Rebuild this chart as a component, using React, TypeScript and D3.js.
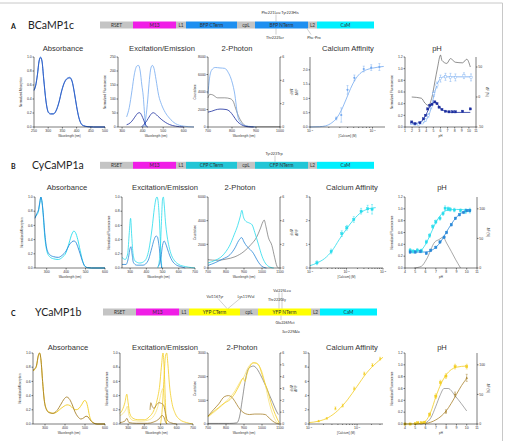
import React from 'react';
import * as d3 from 'd3';

type Pt = number[];

const SANS = '"Liberation Sans", Arial, sans-serif';
const GILL = 'Lato, "Open Sans", sans-serif';

// ---------------- construct ----------------
const segNames = ['RSET', 'M13', 'L1', 'CTerm', 'cpL', 'NTerm', 'L2', 'CaM'];
const segLengths = [33, 43, 10, 51, 18, 53, 9, 57];
const rowNames = ['BCaMP1c', 'CyCaMP1a', 'YCaMP1b'];
const rowLetters = ['A', 'B', 'C'];
const fpNames = ['BFP', 'CFP', 'YFP'];
const panelTitles = ['Absorbance', 'Excitation/Emission', '2-Photon', 'Calcium Affinity', 'pH'];

// ---------------- Row A data ----------------
const absA1: Pt[] = [[250,0.53],[256,0.6],[262,0.75],[268,0.95],[273,1.0],[278,0.95],[284,0.7],[292,0.38],[300,0.22],[308,0.19],[318,0.19],[328,0.24],[338,0.36],[348,0.53],[358,0.65],[368,0.7],[376,0.71],[384,0.66],[392,0.5],[400,0.3],[408,0.14],[416,0.05],[425,0.02],[440,0.005],[460,0],[500,0]];
const absA2: Pt[] = [[250,0.52],[256,0.59],[262,0.74],[268,0.94],[273,0.99],[278,0.94],[284,0.69],[292,0.37],[300,0.21],[308,0.185],[318,0.185],[328,0.23],[338,0.35],[348,0.52],[358,0.64],[368,0.69],[376,0.7],[384,0.65],[392,0.49],[400,0.29],[408,0.13],[416,0.045],[425,0.015],[440,0.004],[460,0],[500,0]];
const exA1: Pt[] = [[322,36],[335,70],[348,130],[360,190],[372,218],[380,220],[388,200],[396,150],[403,110],[408,60],[413,15],[417,0]];
const emA1: Pt[] = [[405,0],[415,30],[425,100],[433,170],[440,210],[447,220],[455,210],[465,170],[478,113],[492,80],[510,52],[530,32],[560,12],[600,3],[650,0]];
const exA2: Pt[] = [[322,8],[340,15],[355,28],[368,42],[378,50],[386,51],[395,42],[405,25],[413,10],[420,2],[425,0]];
const emA2: Pt[] = [[395,0],[405,8],[420,22],[435,40],[445,49],[452,51],[462,47],[475,38],[490,28],[510,17],[530,9],[560,3],[600,0]];
const tpA1: Pt[] = [[700,3800],[706,5500],[715,6500],[730,6800],[750,6750],[770,6700],[785,6200],[795,5600],[810,4000],[826,1000],[840,400],[855,150],[880,50],[900,0]];
const tpA2: Pt[] = [[700,1700],[715,1800],[730,1950],[750,2050],[775,2000],[792,1750],[805,1300],[820,700],[840,250],[855,80],[870,20],[890,0]];
const tpAdf: Pt[] = [[700,2.5],[708,2.8],[720,2.75],[740,2.5],[770,2.5],[792,2.43],[805,2.2],[815,1.6],[830,0.8],[845,0.3],[860,0.08],[880,0.02],[1000,0.02]];
const caAfit: Pt[] = [[-7,0],[-6.85,0.01],[-6.75,0.04],[-6.65,0.15],[-6.57,0.32],[-6.5,0.58],[-6.42,0.98],[-6.35,1.35],[-6.28,1.65],[-6.2,1.87],[-6.1,2.0],[-6.0,2.06],[-5.9,2.1],[-5.82,2.12]];
const caApts: Pt[] = [[-6.58,0.3,0.05],[-6.5,0.42,0.25],[-6.4,1.3,0.15],[-6.29,1.72,0.1],[-6.14,2.03,0.1],[-6.02,2.08,0.1],[-5.89,2.1,0.12]];
const phAlight: Pt[] = [[1.9,0.06,0.01],[2.4,0.05,0.01],[2.9,0.05,0.01],[3.4,0.07,0.01],[3.9,0.12,0.02],[4.3,0.2,0.03],[4.7,0.35,0.04],[5.05,0.57,0.05],[5.5,0.72,0.05],[6.0,0.83,0.06],[6.7,0.86,0.06],[7.4,0.85,0.07],[8.1,0.85,0.06],[9.3,0.88,0.05],[10.3,0.85,0.06]];
const phAlightFit: Pt[] = [[1.8,0.05],[3,0.05],[3.5,0.07],[4,0.12],[4.5,0.25],[5,0.5],[5.5,0.72],[6,0.83],[6.5,0.86],[8,0.86],[10.3,0.86]];
const phAdark: Pt[] = [[1.95,0.086],[2.4,0.057],[3.1,0.074],[3.6,0.14],[3.9,0.2],[4.2,0.31],[4.5,0.37],[4.8,0.39],[5.2,0.43],[5.5,0.4],[5.8,0.34],[6.2,0.3],[6.7,0.27],[7.2,0.26],[7.7,0.26],[8.1,0.26],[9.1,0.27],[10.2,0.31]];
const phAdarkFit: Pt[] = [[1.8,0.07],[2.5,0.06],[3,0.07],[3.5,0.12],[4,0.22],[4.5,0.35],[5,0.42],[5.3,0.43],[5.7,0.37],[6.2,0.3],[7,0.26],[8,0.25],[9,0.25],[10.2,0.25]];
const phAdf: Pt[] = [[1.95,0],[3.3,-2],[3.8,-10],[4.3,-14],[4.8,0],[5.2,25],[5.6,50],[6.0,70],[6.2,61],[6.9,56],[7.4,64],[8.1,58],[9.1,57],[9.7,63],[10.2,50]];

// ---------------- Row B data ----------------
const absB1: Pt[] = [[240,0.72],[250,0.75],[258,0.8],[265,0.92],[270,1.0],[275,0.95],[282,0.75],[290,0.45],[300,0.25],[315,0.16],[335,0.13],[360,0.12],[380,0.15],[400,0.22],[415,0.35],[430,0.48],[440,0.52],[448,0.5],[460,0.4],[472,0.25],[485,0.1],[495,0.03],[510,0.005],[530,0],[600,0]];
const absB2: Pt[] = [[240,0.7],[250,0.77],[258,0.82],[265,0.93],[270,1.0],[275,0.95],[282,0.78],[290,0.5],[300,0.28],[315,0.19],[335,0.16],[360,0.15],[380,0.18],[400,0.24],[415,0.32],[430,0.37],[440,0.38],[448,0.37],[460,0.3],[472,0.2],[485,0.09],[495,0.03],[510,0.005],[530,0],[600,0]];
const exB1: Pt[] = [[250,0.15],[270,0.12],[285,0.2],[295,0.5],[303,0.7],[310,0.45],[318,0.2],[330,0.1],[360,0.07],[390,0.1],[415,0.25],[435,0.55],[450,0.85],[460,0.98],[466,1.0],[472,0.95],[480,0.7],[487,0.35],[492,0.1],[496,0]];
const emB1: Pt[] = [[470,0],[480,0.1],[487,0.3],[494,0.7],[500,0.97],[505,1.0],[510,0.9],[518,0.65],[528,0.45],[540,0.3],[555,0.18],[575,0.1],[600,0.05],[640,0.02],[680,0.005],[700,0]];
const exB2: Pt[] = [[250,0.05],[275,0.05],[290,0.15],[300,0.28],[305,0.3],[312,0.2],[320,0.08],[340,0.04],[380,0.04],[410,0.1],[430,0.25],[448,0.4],[460,0.45],[468,0.44],[476,0.35],[484,0.2],[490,0.08],[495,0]];
const emB2: Pt[] = [[470,0.02],[480,0.05],[490,0.15],[500,0.32],[510,0.38],[518,0.35],[530,0.27],[545,0.17],[560,0.1],[580,0.05],[610,0.02],[640,0]];
const tpB1: Pt[] = [[700,420],[740,650],[770,900],[800,1400],[822,1950],[845,2800],[865,3600],[880,4400],[888,4880],[897,4300],[910,3950],[930,3800],[945,3650],[960,3000],[981,1950],[1000,1000],[1018,420],[1035,150],[1050,40],[1065,0]];
const tpB2: Pt[] = [[700,220],[740,450],[780,750],[822,1120],[850,1700],[870,2300],[887,2570],[900,2200],[917,1810],[935,1550],[952,1250],[970,750],[990,280],[1009,60],[1025,0]];
const tpBdf: Pt[] = [[700,0.7],[750,0.65],[800,0.75],[850,0.95],[900,1.4],[940,2.0],[970,2.6],[990,3.3],[1005,3.9],[1012,4.05],[1022,3.5],[1035,2.6],[1055,1.9],[1070,0.9],[1083,0.15],[1092,0]];
const caBfit: Pt[] = [[-7,0.1],[-6.9,0.15],[-6.8,0.22],[-6.6,0.4],[-6.4,0.72],[-6.2,1.2],[-6.0,1.65],[-5.8,2.05],[-5.6,2.35],[-5.4,2.5],[-5.2,2.55]];
const caBpts: Pt[] = [[-6.81,0.22,0.08],[-6.42,0.7,0.1],[-6.13,1.45,0.12],[-5.99,1.7,0.1],[-5.8,2.05,0.12],[-5.6,2.4,0.12],[-5.42,2.5,0.15],[-5.3,2.48,0.2]];
const phBcyan: Pt[] = [[4.5,0.3,0.03],[4.8,0.28,0.03],[5.2,0.3,0.03],[5.6,0.29,0.03],[6.07,0.44,0.03],[6.4,0.55,0.03],[6.7,0.7,0.03],[7.0,0.78,0.03],[7.4,0.84,0.03],[7.7,0.92,0.03],[7.9,1.01,0.04],[8.2,1.0,0.03],[8.4,0.99,0.03],[8.8,0.98,0.03],[9.4,0.97,0.03],[9.9,0.96,0.04],[10.3,0.97,0.04]];
const phBcyanFit: Pt[] = [[4.5,0.29],[5.5,0.3],[6,0.4],[6.5,0.58],[7,0.77],[7.5,0.9],[8,0.97],[9,0.99],[10.4,0.98]];
const phBblue: Pt[] = [[4.5,0.27,0.02],[5,0.27,0.02],[5.5,0.28,0.02],[6.07,0.25,0.02],[6.5,0.3,0.02],[7,0.35,0.02],[7.4,0.44,0.02],[7.8,0.52,0.02],[8.05,0.6,0.02],[8.5,0.73,0.02],[8.9,0.84,0.02],[9.3,0.9,0.02],[9.7,0.94,0.02],[10,0.97,0.02],[10.3,0.97,0.02]];
const phBblueFit: Pt[] = [[4.5,0.27],[6,0.27],[6.5,0.29],[7,0.35],[7.5,0.45],[8,0.6],[8.5,0.74],[9,0.86],[9.5,0.93],[10,0.96],[10.4,0.97]];
const phBdf: Pt[] = [[4.9,0],[5.6,3],[6.1,15],[6.9,44],[7.3,48],[7.7,52],[8.05,42],[8.5,28],[8.9,15],[9.4,0]];

// ---------------- Row C data ----------------
const absC1: Pt[] = [[240,0.75],[250,0.77],[258,0.82],[266,0.95],[273,1.0],[280,0.9],[288,0.6],[296,0.35],[306,0.22],[320,0.17],[340,0.15],[360,0.17],[380,0.22],[395,0.25],[410,0.27],[425,0.26],[440,0.22],[455,0.2],[470,0.22],[485,0.28],[497,0.33],[505,0.32],[513,0.25],[522,0.12],[532,0.04],[545,0.01],[560,0],[600,0]];
const absC2: Pt[] = [[240,0.76],[250,0.78],[258,0.83],[266,0.96],[273,1.0],[280,0.9],[288,0.6],[296,0.34],[306,0.21],[320,0.16],[340,0.15],[360,0.19],[380,0.28],[395,0.35],[408,0.38],[420,0.36],[435,0.28],[450,0.17],[465,0.1],[480,0.07],[495,0.09],[505,0.11],[515,0.1],[525,0.06],[540,0.02],[560,0],[600,0]];
const exC1: Pt[] = [[250,0.15],[265,0.2],[280,0.3],[292,0.42],[300,0.3],[310,0.15],[330,0.08],[360,0.06],[400,0.06],[430,0.1],[460,0.2],[480,0.35],[495,0.55],[505,0.8],[515,1.0],[522,0.8],[530,0.3],[535,0.05],[540,0]];
const emC1: Pt[] = [[500,0],[510,0.2],[520,0.6],[530,0.95],[538,1.0],[545,0.85],[555,0.55],[570,0.3],[590,0.15],[620,0.06],[660,0.02],[700,0]];
const exC3: Pt[] = [[250,0.12],[270,0.15],[285,0.2],[295,0.25],[305,0.12],[330,0.05],[380,0.04],[430,0.06],[460,0.12],[480,0.22],[495,0.35],[505,0.45],[515,0.5],[523,0.35],[532,0.08],[540,0]];
const emC2: Pt[] = [[435,0.2],[440,0.3],[448,0.25],[460,0.22],[475,0.27],[490,0.3],[505,0.29],[518,0.27],[528,0.18],[540,0.06],[560,0.02],[600,0]];
const exC2: Pt[] = [[250,0.02],[280,0.04],[292,0.08],[305,0.02],[350,0.01],[420,0.01],[460,0.03],[490,0.07],[510,0.12],[520,0.1],[530,0.03],[540,0]];
const tpC1: Pt[] = [[700,320],[730,520],[760,700],[790,880],[822,1030],[850,1300],[875,1650],[896,1940],[905,1800],[918,2150],[938,2500],[952,2580],[970,2560],[985,2440],[1000,2100],[1015,1750],[1030,1450],[1050,900],[1074,400],[1096,40]];
const tpC3: Pt[] = [[700,300],[750,600],[800,950],[850,1400],[880,1800],[900,2000],[920,2350],[940,2550],[960,2600],[980,2500],[1000,2200],[1020,1600],[1040,900],[1060,400],[1080,100],[1095,0]];
const tpC2: Pt[] = [[700,330],[730,600],[760,850],[790,1150],[813,1200],[830,1150],[850,950],[870,700],[890,520],[910,430],[930,400],[960,420],[990,420],[1018,400],[1040,250],[1060,120],[1080,30],[1095,0]];
const tpCdf: Pt[] = [[700,0.05],[760,0.05],[820,0.05],[860,0.1],[875,0.6],[890,2.0],[905,3.5],[925,4.7],[940,4.85],[952,4.9],[970,4.7],[990,4.2],[1018,3.3],[1040,2.5],[1060,1.8],[1080,1.1],[1091,0.8]];
const caCfit: Pt[] = [[-7,0.2],[-6.8,0.4],[-6.6,0.9],[-6.4,1.9],[-6.2,3.4],[-6.0,5.3],[-5.8,7.2],[-5.6,8.6],[-5.46,9.4]];
const caCpts: Pt[] = [[-6.8,0.4,0.1],[-6.63,0.8,0.1],[-6.45,2.2,0.2],[-6.3,2.6,0.2],[-6.06,5.0,0.2],[-5.85,7.1,0.2],[-5.68,8.3,0.2],[-5.52,9.2,0.2]];
const phCyel: Pt[] = [[4,0,0.01],[4.5,0,0.01],[5,0.005,0.01],[5.25,0.02,0.01],[5.6,0.02,0.01],[5.9,0.03,0.01],[6.4,0.16,0.03],[7.0,0.47,0.04],[7.45,0.7,0.04],[7.98,0.81,0.04],[8.87,0.97,0.04],[10.0,0.97,0.04]];
const phCyelFit: Pt[] = [[4,0],[5.5,0.01],[6,0.05],[6.5,0.2],[7,0.46],[7.5,0.68],[8,0.83],[8.5,0.92],[9,0.96],[10,0.98]];
const phCbrn: Pt[] = [[7.98,0.21,0.03],[8.87,0.5,0.04],[10.0,0.78,0.06]];
const phCbrnFit: Pt[] = [[5,0],[6,0.01],[6.5,0.03],[7,0.07],[7.5,0.13],[8,0.22],[8.5,0.35],[9,0.5],[9.5,0.65],[10,0.77]];
const phCdf: Pt[] = [[5.5,0],[6,2],[6.5,10],[7,30],[7.4,48],[7.8,60],[8.2,60],[8.9,47],[10,22]];

// ---------------- ticks ----------------
const ticks01 = [0, 0.2, 0.4, 0.6, 0.8, 1.0];
const ticks012 = [0, 0.2, 0.4, 0.6, 0.8, 1.0, 1.2];
const phTicksA = [1, 2, 3, 4, 5, 6, 7, 8, 9, 10, 11];
const phTicksBC = [4, 5, 6, 7, 8, 9, 10, 11];

// colours
const A_L = '#74aaf0', A_M = '#3d78dc', A_D = '#1b2d9e';
const B_C = '#27dcec', B_B = '#2a88d8';
const C_Y = '#f3cd22', C_LY = '#f8e27a', C_B = '#a8822c';
const GREY = '#555';

interface LineS { d: Pt[]; c: string; w?: number; r?: boolean }
interface MarkS { d: Pt[]; c: string; s: 'sq' | 'ci' | 'tr'; open?: boolean }
interface PanelS {
  x0: number; x1: number; y0: number; y1: number;
  xd: number[]; xt: number[]; xlog?: boolean;
  yd: number[]; yt: number[]; yf: (v: number) => string;
  rd?: number[]; rt?: number[];
  xl: string; yl: string; rl?: string;
  lines: LineS[]; marks?: MarkS[];
}

const f1 = (v: number) => v.toFixed(1);
const f0 = (v: number) => String(v);
const TS = 3.5;
const LS = 3.0;

function Panel({ p }: { p: PanelS }) {
  const lin = d3.scaleLinear().domain(p.xd).range([p.x0, p.x1]);
  const lg = d3.scaleLog().domain([Math.pow(10, p.xd[0]), Math.pow(10, p.xd[1])]).range([p.x0, p.x1]);
  const X = (v: number) => (p.xlog ? lg(Math.pow(10, v)) : lin(v));
  const yl = d3.scaleLinear().domain(p.yd).range([p.y1, p.y0]);
  const yr = p.rd ? d3.scaleLinear().domain(p.rd).range([p.y1, p.y0]) : yl;
  const mk = (s: LineS) => {
    const Y = s.r ? yr : yl;
    return d3.line<Pt>().x(d => X(d[0])).y(d => Y(d[1])).curve(d3.curveMonotoneX)(s.d) || '';
  };
  const minor: number[] = [];
  if (p.xlog) {
    for (let e = Math.floor(p.xd[0]); e <= Math.ceil(p.xd[1]); e++) {
      for (let k = 2; k <= 9; k++) {
        const v = e + Math.log10(k);
        if (v > p.xd[0] && v < p.xd[1]) minor.push(v);
      }
    }
  }
  const midY = (p.y0 + p.y1) / 2;
  const midX = (p.x0 + p.x1) / 2;
  return (
    <g>
      {p.lines.map((s, i) => (
        <path key={i} d={mk(s)} fill="none" stroke={s.c} strokeWidth={s.w ?? 0.8} />
      ))}
      {(p.marks || []).map((m, i) => (
        <g key={'m' + i}>
          {m.d.map((d, j) => {
            const cx = X(d[0]);
            const cy = yl(d[1]);
            const e = d[2] || 0;
            const r = 1.1;
            return (
              <g key={j}>
                {e > 0 && (
                  <g stroke={m.c} strokeWidth={0.45}>
                    <line x1={cx} x2={cx} y1={yl(d[1] - e)} y2={yl(d[1] + e)} />
                    <line x1={cx - 1} x2={cx + 1} y1={yl(d[1] - e)} y2={yl(d[1] - e)} />
                    <line x1={cx - 1} x2={cx + 1} y1={yl(d[1] + e)} y2={yl(d[1] + e)} />
                  </g>
                )}
                {m.s === 'sq' && (
                  <rect x={cx - r} y={cy - r} width={2 * r} height={2 * r}
                    fill={m.open ? 'white' : m.c} stroke={m.c} strokeWidth={0.4} />
                )}
                {m.s === 'ci' && <circle cx={cx} cy={cy} r={r} fill={m.c} />}
                {m.s === 'tr' && (
                  <path d={`M${cx},${cy - 1.3}L${cx + 1.2},${cy + 0.9}L${cx - 1.2},${cy + 0.9}Z`} fill={m.c} />
                )}
              </g>
            );
          })}
        </g>
      ))}
      {/* axes */}
      <g stroke="#111" strokeWidth={0.55} fill="none">
        <line x1={p.x0} x2={p.x0} y1={p.y0} y2={p.y1} />
        <line x1={p.x0} x2={p.x1} y1={p.y1} y2={p.y1} />
        {p.rd && <line x1={p.x1} x2={p.x1} y1={p.y0} y2={p.y1} />}
        {p.yt.map((t, i) => (
          <line key={'yt' + i} x1={p.x0 - 1.5} x2={p.x0} y1={yl(t)} y2={yl(t)} />
        ))}
        {(p.rt || []).map((t, i) => (
          <line key={'rt' + i} x1={p.x1} x2={p.x1 + 1.5} y1={yr(t)} y2={yr(t)} />
        ))}
        {p.xt.map((t, i) => (
          <line key={'xt' + i} x1={X(t)} x2={X(t)} y1={p.y1} y2={p.y1 + 1.5} />
        ))}
        {minor.map((t, i) => (
          <line key={'mn' + i} x1={X(t)} x2={X(t)} y1={p.y1} y2={p.y1 + 0.9} />
        ))}
      </g>
      <g fontFamily={SANS} fontSize={TS} fill="#333">
        {p.yt.map((t, i) => (
          <text key={'yl' + i} x={p.x0 - 2.2} y={yl(t) + 1.2} textAnchor="end">{p.yf(t)}</text>
        ))}
        {(p.rt || []).map((t, i) => (
          <text key={'rl' + i} x={p.x1 + 2.2} y={yr(t) + 1.2} textAnchor="start">{f0(t)}</text>
        ))}
        {p.xt.map((t, i) => (
          <text key={'xl' + i} x={X(t)} y={p.y1 + 5} textAnchor="middle">
            {p.xlog ? (<>10<tspan fontSize={2.5} dy={-1.4}>{String(t)}</tspan></>) : f0(t)}
          </text>
        ))}
        <text x={midX} y={p.y1 + 9.5} textAnchor="middle" fontSize={LS}>{p.xl}</text>
        <text transform={`translate(${p.x0 - 12},${midY}) rotate(-90)`} textAnchor="middle" fontSize={LS}>{p.yl}</text>
        {p.rl && (
          <text transform={`translate(${p.x1 + 10},${midY}) rotate(90)`} textAnchor="middle" fontSize={LS}>{p.rl}</text>
        )}
      </g>
    </g>
  );
}

interface RowLayout {
  top: number; bot: number; barY: number; barX: number; nameY: number; titleY: number;
  titleX: number[]; absX: number[]; exX: number[]; caX: number[];
}
const layouts: RowLayout[] = [
  { top: 57, bot: 127, barY: 21.5, barX: 100, nameY: 28.5, titleY: 50.5, titleX: [63, 162, 237, 348, 437], absX: [34, 105], exX: [118, 194], caX: [310, 385] },
  { top: 197, bot: 268, barY: 161.8, barX: 100, nameY: 168.5, titleY: 190, titleX: [67, 165, 240, 352, 442], absX: [35, 105], exX: [122, 195], caX: [310, 383] },
  { top: 353, bot: 424, barY: 308.5, barX: 103, nameY: 316, titleY: 349.5, titleX: [68, 165, 242, 352, 442], absX: [33, 105], exX: [120, 193], caX: [309, 383] },
];
const fpColors = ['#1e8ff0', '#22c6d6', '#ffff00'];
const segFill = (i: number, row: number) => {
  if (i === 1) return '#f01ee6';
  if (i === 3 || i === 5) return fpColors[row];
  if (i === 7) return '#00f0ff';
  return '#c4c4c4';
};

function Construct({ row }: { row: number }) {
  const L = layouts[row];
  const cum = [0];
  segLengths.forEach(l => cum.push(cum[cum.length - 1] + l));
  const sx = d3.scaleLinear().domain([0, cum[cum.length - 1]]).range([L.barX, L.barX + 274]);
  const h = 7;
  return (
    <g>
      {segNames.map((n, i) => {
        const label = i === 3 || i === 5 ? `${fpNames[row]} ${n}` : n;
        return (
          <g key={i}>
            <rect x={sx(cum[i])} y={L.barY} width={sx(cum[i + 1]) - sx(cum[i])} height={h} fill={segFill(i, row)} />
            <text x={(sx(cum[i]) + sx(cum[i + 1])) / 2} y={L.barY + 5.1} textAnchor="middle"
              fontFamily={GILL} fontSize={4.8} fill="#333">{label}</text>
          </g>
        );
      })}
      <text x={11} y={L.nameY} fontFamily={GILL} fontWeight={700} fontSize={7} fill="#111">{rowLetters[row]}</text>
      <text x={row === 0 ? 28 : row === 1 ? 32 : 35} y={L.nameY} fontFamily={GILL} fontSize={10.5} fill="#222">{rowNames[row]}</text>
      {panelTitles.map((t, i) => (
        <text key={t} x={L.titleX[i]} y={L.titleY} textAnchor="middle" fontFamily={SANS} fontSize={7.6} fill="#333">{t}</text>
      ))}
    </g>
  );
}

function Annotations() {
  const st = { fontFamily: GILL, fontSize: 3.8, fill: '#333' } as const;
  return (
    <g>
      <g stroke="#777" strokeWidth={0.35}>
        <line x1={276} x2={276} y1={14.5} y2={21.5} />
        <line x1={276} x2={276} y1={28.5} y2={34.5} />
        <line x1={307} x2={311} y1={28.5} y2={34.5} />
        <line x1={275} x2={275} y1={155.5} y2={161.8} />
        <line x1={218} x2={227} y1={298.5} y2={308.5} />
        <line x1={240} x2={228} y1={298.5} y2={308.5} />
        <line x1={279} x2={279} y1={292.5} y2={308.5} />
        <line x1={282} x2={282} y1={292.5} y2={308.5} />
        <line x1={281} x2={281} y1={315.5} y2={320} />
      </g>
      <text x={280} y={13.5} textAnchor="middle" {...st}>Phe221Leu Tyr223His</text>
      <text x={275} y={38.5} textAnchor="middle" {...st}>Thr222Ser</text>
      <text x={314} y={38.5} textAnchor="middle" {...st}>Phe-Pro</text>
      <text x={274} y={155} textAnchor="middle" {...st}>Tyr223Trp</text>
      <text x={215} y={298} textAnchor="middle" {...st}>Val116Tyr</text>
      <text x={246} y={298} textAnchor="middle" {...st}>Lys119Val</text>
      <text x={282} y={292} textAnchor="middle" {...st}>Val225Leu</text>
      <text x={277} y={301} textAnchor="middle" {...st}>Thr222Gly</text>
      <text x={285} y={324} textAnchor="middle" {...st}>Glu226Met</text>
      <text x={291} y={333} textAnchor="middle" {...st}>Ser229Ala</text>
    </g>
  );
}

function buildPanels(): PanelS[] {
  const out: PanelS[] = [];
  const WL = 'Wavelength (nm)';
  const absLines = [[absA1, absA2], [absB1, absB2], [absC1, absC2]];
  const absCols = [[A_M, '#2c5cc4'], [B_C, B_B], [C_Y, C_B]];
  const absDom = [[250, 500], [240, 600], [240, 600]];
  const absTicks = [[250, 300, 350, 400, 450, 500], [300, 400, 500, 600], [300, 400, 500, 600]];
  for (let r = 0; r < 3; r++) {
    const L = layouts[r];
    out.push({
      x0: L.absX[0], x1: L.absX[1], y0: L.top, y1: L.bot,
      xd: absDom[r], xt: absTicks[r], yd: [0, 1], yt: ticks01, yf: f1,
      xl: WL, yl: 'Normalized Absorption',
      lines: absLines[r].map((d, i) => ({ d, c: absCols[r][i], w: 0.9 })),
    });
  }
  // Excitation / Emission
  out.push({
    x0: layouts[0].exX[0], x1: layouts[0].exX[1], y0: layouts[0].top, y1: layouts[0].bot,
    xd: [280, 650], xt: [300, 400, 500, 600], yd: [0, 250], yt: [0, 50, 100, 150, 200, 250], yf: f0,
    xl: WL, yl: 'Normalized Fluorescence',
    lines: [{ d: exA1, c: A_L }, { d: emA1, c: A_L }, { d: exA2, c: A_D }, { d: emA2, c: A_D }],
  });
  out.push({
    x0: layouts[1].exX[0], x1: layouts[1].exX[1], y0: layouts[1].top, y1: layouts[1].bot,
    xd: [250, 700], xt: [300, 400, 500, 600, 700], yd: [0, 1], yt: ticks01, yf: f1,
    xl: WL, yl: 'Normalized Fluorescence',
    lines: [{ d: exB1, c: B_C }, { d: emB1, c: B_C }, { d: exB2, c: B_B }, { d: emB2, c: B_B }],
  });
  out.push({
    x0: layouts[2].exX[0], x1: layouts[2].exX[1], y0: layouts[2].top, y1: layouts[2].bot,
    xd: [250, 700], xt: [300, 400, 500, 600, 700], yd: [0, 1], yt: ticks01, yf: f1,
    xl: WL, yl: 'Normalized Fluorescence',
    lines: [{ d: exC3, c: C_LY }, { d: exC1, c: C_Y }, { d: emC1, c: C_Y }, { d: emC2, c: C_B }, { d: exC2, c: C_B }],
  });
  // 2-photon
  const tpLeft = [[0, 8000], [0, 6000], [0, 3000]];
  const tpLT = [[0, 2000, 4000, 6000, 8000], [0, 2000, 4000, 6000], [0, 1000, 2000, 3000]];
  const tpXd = [[700, 1000], [700, 1100], [700, 1100]];
  const tpXt = [[700, 800, 900, 1000], [700, 800, 900, 1000, 1100], [700, 800, 900, 1000, 1100]];
  const tpRT = [[0, 2, 4, 6], [0, 2, 4, 6], [0, 1, 2, 3, 4, 5, 6]];
  const tpLines: LineS[][] = [
    [{ d: tpAdf, c: GREY, w: 0.6, r: true }, { d: tpA1, c: A_L }, { d: tpA2, c: A_D }],
    [{ d: tpBdf, c: GREY, w: 0.6, r: true }, { d: tpB1, c: B_C }, { d: tpB2, c: B_B }],
    [{ d: tpCdf, c: GREY, w: 0.6, r: true }, { d: tpC3, c: C_LY }, { d: tpC1, c: C_Y }, { d: tpC2, c: C_B }],
  ];
  for (let r = 0; r < 3; r++) {
    const L = layouts[r];
    out.push({
      x0: 208, x1: 280, y0: L.top, y1: L.bot,
      xd: tpXd[r], xt: tpXt[r], yd: tpLeft[r], yt: tpLT[r], yf: f0,
      rd: [0, 6], rt: tpRT[r],
      xl: WL, yl: 'Counts/sec', rl: 'ΔF/F',
      lines: tpLines[r],
    });
  }
  // Calcium
  const caXd = [[-7, -5.8], [-7, -5], [-7, -5.46]];
  const caXt = [[-7, -6], [-7, -6, -5], [-7, -6]];
  const caYd = [[0, 2.45], [0, 3], [0, 10]];
  const caYt = [[0, 0.5, 1, 1.5, 2], [0, 1, 2, 3], [0, 2, 4, 6, 8, 10]];
  const caYf = [f1, f0, f0];
  const caFits = [caAfit, caBfit, caCfit];
  const caPts = [caApts, caBpts, caCpts];
  const caCol = [A_L, B_C, C_Y];
  const caShape: ('ci' | 'sq' | 'tr')[] = ['ci', 'sq', 'tr'];
  for (let r = 0; r < 3; r++) {
    const L = layouts[r];
    out.push({
      x0: L.caX[0], x1: L.caX[1], y0: L.top, y1: L.bot, xlog: true,
      xd: caXd[r], xt: caXt[r], yd: caYd[r], yt: caYt[r], yf: caYf[r],
      xl: '[Calcium] (M)', yl: 'ΔF/F',
      lines: [{ d: caFits[r], c: caCol[r], w: 0.8 }],
      marks: [{ d: caPts[r], c: caCol[r], s: caShape[r] }],
    });
  }
  // pH
  out.push({
    x0: 405, x1: 476, y0: layouts[0].top, y1: layouts[0].bot,
    xd: [1, 11], xt: phTicksA, yd: [0, 1.2], yt: ticks012, yf: f1,
    rd: [-50, 66.7], rt: [-50, 0, 50],
    xl: 'pH', yl: 'Normalized Fluorescence', rl: 'ΔF (%)',
    lines: [{ d: phAlightFit, c: A_L }, { d: phAdarkFit, c: A_D }, { d: phAdf, c: '#222', w: 0.5, r: true }],
    marks: [{ d: phAlight, c: A_L, s: 'sq', open: true }, { d: phAdark, c: A_D, s: 'sq' }],
  });
  out.push({
    x0: 405, x1: 477, y0: layouts[1].top, y1: layouts[1].bot,
    xd: [4, 11], xt: phTicksBC, yd: [0, 1.2], yt: ticks012, yf: f1,
    rd: [0, 120], rt: [0, 50, 100],
    xl: 'pH', yl: 'Normalized Fluorescence', rl: 'ΔF (%)',
    lines: [{ d: phBcyanFit, c: B_C }, { d: phBblueFit, c: B_B }, { d: phBdf, c: GREY, w: 0.5, r: true }],
    marks: [{ d: phBcyan, c: B_C, s: 'sq' }, { d: phBblue, c: B_B, s: 'sq' }],
  });
  out.push({
    x0: 405, x1: 477, y0: layouts[2].top, y1: layouts[2].bot,
    xd: [4, 11], xt: phTicksBC, yd: [0, 1.2], yt: ticks012, yf: f1,
    rd: [0, 120], rt: [0, 50, 100],
    xl: 'pH', yl: 'Normalized Fluorescence', rl: 'ΔF (%)',
    lines: [{ d: phCyelFit, c: C_Y }, { d: phCbrnFit, c: C_B }, { d: phCdf, c: GREY, w: 0.5, r: true }],
    marks: [{ d: phCyel, c: C_Y, s: 'sq' }, { d: phCbrn, c: C_B, s: 'tr' }],
  });
  return out;
}

export default function App() {
  const panels = buildPanels();
  return (
    <svg width={505} height={441} viewBox="0 0 505 441"
      style={{ position: 'fixed', left: 0, top: 0, background: 'white' }}>
      <rect x={0} y={0} width={505} height={441} fill="white" />
      <line x1={0} x2={502.5} y1={3} y2={3} stroke="#c8c8c8" strokeWidth={1} />
      <line x1={502.5} x2={502.5} y1={3} y2={441} stroke="#c8c8c8" strokeWidth={1} />
      {[0, 1, 2].map(r => <Construct key={r} row={r} />)}
      <Annotations />
      {panels.map((p, i) => <Panel key={i} p={p} />)}
    </svg>
  );
}
